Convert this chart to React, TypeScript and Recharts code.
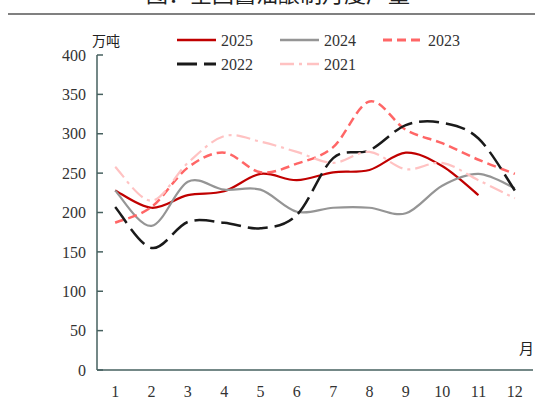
import { Line, LineChart, XAxis, YAxis } from "recharts";

const months = [1, 2, 3, 4, 5, 6, 7, 8, 9, 10, 11, 12];
const y2025 = [228, 206, 222, 227, 249, 241, 251, 254, 276, 259, 222, null];
const y2024 = [228, 183, 239, 229, 229, 201, 206, 206, 199, 234, 249, 231];
const y2023 = [187, 207, 257, 276, 251, 262, 283, 341, 305, 288, 267, 249];
const y2022 = [207, 155, 188, 187, 180, 197, 269, 279, 311, 314, 294, 228];
const y2021 = [258, 215, 263, 297, 290, 277, 263, 277, 255, 263, 241, 218];
const yTicks = [0, 50, 100, 150, 200, 250, 300, 350, 400];
const monthEdges = [1.5, 2.5, 3.5, 4.5, 5.5, 6.5, 7.5, 8.5, 9.5, 10.5, 11.5, 12.5];

const data = months.map((m, i) => ({
  m,
  y2025: y2025[i],
  y2024: y2024[i],
  y2023: y2023[i],
  y2022: y2022[i],
  y2021: y2021[i],
}));

const series = [
  { key: "y2025", name: "2025", color: "#c00000", dash: undefined, width: 2.2, lx: 177, ly: 40 },
  { key: "y2024", name: "2024", color: "#959595", dash: undefined, width: 2.2, lx: 280, ly: 40 },
  { key: "y2023", name: "2023", color: "#ff6666", dash: "9 5", width: 2.5, lx: 383, ly: 40 },
  { key: "y2022", name: "2022", color: "#1a1a1a", dash: "20 7", width: 2.5, lx: 177, ly: 64 },
  { key: "y2021", name: "2021", color: "#ffc2c2", dash: "14 5 3 5", width: 2.2, lx: 280, ly: 64 },
];

const axisColor = "#46605f";
const serif = "'Liberation Serif', 'Times New Roman', serif";
const cjk = "'Noto Sans CJK SC', sans-serif";

// catmull-rom style smoothing, close to Excel's smoothed lines
function smooth(context: any) {
  let pts: number[][] = [];
  return {
    areaStart() {},
    areaEnd() {},
    lineStart() {
      pts = [];
    },
    lineEnd() {
      if (!pts.length) return;
      context.moveTo(pts[0][0], pts[0][1]);
      for (let i = 0; i < pts.length - 1; i++) {
        const p0 = pts[Math.max(i - 1, 0)];
        const p1 = pts[i];
        const p2 = pts[i + 1];
        const p3 = pts[Math.min(i + 2, pts.length - 1)];
        context.bezierCurveTo(
          p1[0] + (p2[0] - p0[0]) / 6,
          p1[1] + (p2[1] - p0[1]) / 6,
          p2[0] - (p3[0] - p1[0]) / 6,
          p2[1] - (p3[1] - p1[1]) / 6,
          p2[0],
          p2[1]
        );
      }
    },
    point(x: number, y: number) {
      pts.push([x, y]);
    },
  };
}

export default function App() {
  return (
    <div style={{ position: "absolute", left: 0, top: 0, width: 535, height: 401, overflow: "hidden", background: "#fff" }}>
      <LineChart width={535} height={401} data={data} margin={{ top: 55, right: 2, bottom: 0, left: 0 }}>
        <XAxis
          xAxisId="edges"
          type="number"
          dataKey="m"
          domain={[0.5, 12.5]}
          ticks={monthEdges}
          tick={false}
          height={0}
          mirror
          axisLine={false}
          tickSize={5}
          tickLine={{ stroke: axisColor, strokeWidth: 1.5 }}
        />
        <XAxis
          type="number"
          dataKey="m"
          domain={[0.5, 12.5]}
          ticks={months}
          interval={0}
          height={31}
          tickLine={false}
          tickMargin={10}
          axisLine={{ stroke: axisColor, strokeWidth: 1.5 }}
          tick={{ fill: "#333", fontSize: 16, fontFamily: serif }}
        />
        <YAxis
          width={97}
          domain={[0, 400]}
          ticks={yTicks}
          interval={0}
          tickSize={-6}
          tickMargin={17}
          axisLine={{ stroke: axisColor, strokeWidth: 1.5 }}
          tickLine={{ stroke: axisColor, strokeWidth: 1.5 }}
          tick={{ fill: "#333", fontSize: 16, fontFamily: serif }}
        />
        {series.map((s) => (
          <Line
            key={s.key}
            dataKey={s.key}
            type={smooth as any}
            stroke={s.color}
            strokeWidth={s.width}
            strokeDasharray={s.dash}
            dot={false}
            activeDot={false}
            isAnimationActive={false}
          />
        ))}
      </LineChart>
      <svg width={535} height={401} style={{ position: "absolute", left: 0, top: 0, pointerEvents: "none" }}>
        <text x={278} y={2} textAnchor="middle" fontSize={22} fontFamily={cjk} fill="#222">
          图：全国酱油酿制月度产量
        </text>
        <line x1={8} y1={14} x2={535} y2={14} stroke="#808080" strokeWidth={1.8} />
        <text x={92} y={46} fontSize={14} fontFamily={cjk} fill="#222">万吨</text>
        <text x={519} y={354} fontSize={15} fontFamily={cjk} fill="#222">月</text>
        {series.map((s) => (
          <g key={s.key}>
            <line
              x1={s.lx}
              y1={s.ly}
              x2={s.lx + 39}
              y2={s.ly}
              stroke={s.color}
              strokeWidth={s.width + 0.4}
              strokeDasharray={s.dash}
            />
            <text x={s.lx + (s.key === "y2023" ? 45 : 44)} y={s.ly + 6} fontSize={16} fontFamily={serif} fill="#333">
              {s.name}
            </text>
          </g>
        ))}
      </svg>
    </div>
  );
}
